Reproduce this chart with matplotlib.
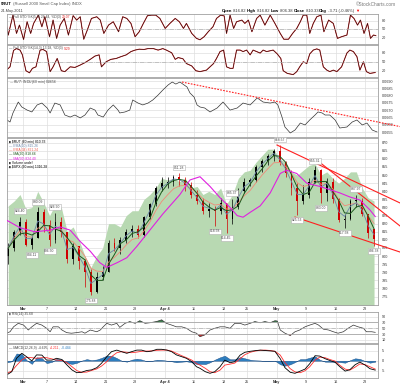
import matplotlib
matplotlib.use("Agg")
import matplotlib.pyplot as plt
from matplotlib.patches import Rectangle
import numpy as np
import pandas as pd

plt.rcParams["font.family"] = ["Liberation Sans", "DejaVu Sans"]

# ---------------- data ----------------
# trading days Feb 23 .. May 24 2011 (Good Friday closed); day i spans [i, i+1]
trade_days = pd.bdate_range("2011-02-23", "2011-05-24")
trade_days = trade_days[trade_days != pd.Timestamp("2011-04-22")]

tick_dates = ["2011-03-01", "2011-03-07", "2011-03-14", "2011-03-21", "2011-03-28",
              "2011-04-04", "2011-04-11", "2011-04-18", "2011-04-25",
              "2011-05-02", "2011-05-09", "2011-05-16", "2011-05-23"]
tick_labels = ["Mar", "7", "14", "21", "28", "Apr 4", "11", "18", "25", "May", "9", "16", "23"]

# daily OHLC of $RUT, Feb 24 .. May 24
rut_open = [800, 805, 815, 821, 807, 811, 827, 819, 810, 821, 815, 798, 806, 797, 790, 778, 787, 790,
            808, 805, 810, 815, 817, 813, 824, 832, 842, 845, 846, 849, 847, 844, 838, 834, 828, 829,
            828, 833, 823, 830, 840, 846, 847, 855, 859, 862, 865, 858, 851, 842, 834, 838, 846, 853,
            839, 846, 835, 822, 823, 834, 834, 826, 816.82]
rut_high = [808, 816, 824.40, 823, 813, 830.09, 829, 822, 826.90, 824, 815, 808, 806, 798, 792, 790,
            794, 810, 811, 812, 817, 819, 819, 825, 833, 843, 849, 849, 850, 851.28, 849, 846, 841,
            836, 833, 831, 836, 833, 835.37, 842, 848, 848, 856, 860, 863, 866, 868.57, 859, 853,
            845, 844, 848, 855.31, 854, 848, 848, 836, 826, 835, 837.97, 836, 826, 816.82]
rut_low = [795, 803, 813, 806, 804.11, 811, 815, 806.50, 808, 812, 796, 795, 792, 781, 775.88, 777,
           785, 790, 803, 801, 808, 812, 811, 812, 823, 831, 840, 842, 843, 843, 840, 836, 832, 826,
           824, 818.58, 826, 814.45, 820, 829, 839, 843, 846, 852, 856, 859, 856, 849, 838, 825.53,
           832, 836, 845, 833.00, 834, 833, 821, 817.58, 822, 830, 825, 811, 806.38]
rut_close = [805, 815, 821, 807, 811, 827, 819, 810, 821, 815, 798, 806, 797, 790, 778, 787, 790, 808,
             805, 810, 815, 817, 813, 824, 832, 842, 845, 846, 849, 847, 844, 838, 834, 828, 829, 828,
             833, 823, 830, 840, 846, 847, 855, 859, 862, 865, 858, 851, 842, 834, 838, 846, 853, 839,
             846, 835, 822, 823, 834, 834, 826, 814, 810.33]

# green $SPX overlay area (on the price scale), one value per day
spx_area = [831, 834, 838, 829, 830, 840, 833, 825, 832, 830, 815, 818, 810, 800, 793, 800, 805, 820,
            820, 818, 825, 828, 828, 835, 838, 842, 848, 847, 848, 846, 848, 842, 843, 838, 840, 838,
            842, 832, 838, 848, 852, 853, 858, 862, 866, 866, 860, 858, 852, 850, 853, 856, 857, 850,
            852, 848, 845, 848, 852, 852, 842, 836, 834]

ma50_day = [1.3, 3.5, 6.0, 8.6, 10.3, 12.0, 13.7, 15.4, 17.0, 18.2, 20.0, 21.6, 23.3, 25.5, 27.7,
            30.6, 32.3, 34.0, 35.7, 37.4, 39.1, 40.3, 41.3, 42.5, 44.2, 45.9, 47.6, 48.7, 50.4, 52.1,
            54.3, 56.0, 57.7, 59.4, 61.1, 62.8, 63.7]
ma50_val = [822, 817.5, 815, 816, 818, 816, 809, 803, 796, 793, 796, 799, 806, 816, 826, 838, 847,
            849, 843, 836, 830, 825, 824, 827, 831, 839, 851, 853, 851, 845, 843, 841, 839, 836.5,
            834.6, 828.5, 824.4]

# labelled swing highs / lows (trading day number)
ann_day = [3, 5, 6, 8, 9, 15, 30, 36, 38, 39, 47, 50, 53, 54, 58, 60, 63]
ann_side = ["high", "low", "high", "low", "high", "low", "high", "low", "low", "high",
            "high", "low", "high", "low", "low", "high", "low"]

# hand drawn trend lines (day, price)
trend_lines = [([47.05, 67.9], [868.57, 832.8]),
               ([53.8, 67.9], [859.3, 818.6]),
               ([50.1, 67.9], [824.1, 802.5])]
ratio_trend = ([30.95, 67.9], [0.06893, 0.06588])

sto5_day = [1.2, 1.5, 2.3, 2.9, 3.4, 4.1, 4.7, 5.3, 5.8, 6.6, 7.2, 7.7, 8.5, 9.1, 9.7, 10.3, 11.0, 11.7,
            12.5, 13.1, 13.7, 14.3, 14.9, 15.6, 16.5, 17.1, 17.7, 18.5, 19.3, 20.2, 20.9, 21.6, 22.3,
            23.0, 23.7, 24.4, 25.1, 25.8, 26.5, 27.2, 28.1, 28.9, 29.8, 30.5, 31.2, 31.7, 32.6, 33.4,
            34.0, 34.7, 35.4, 36.2, 36.8, 37.5, 38.1, 38.5, 39.1, 39.7, 40.2, 41.1, 41.6, 42.2, 42.8,
            43.6, 44.2, 45.0, 45.9, 46.7, 47.6, 48.2, 49.0, 49.7, 50.4, 51.0, 51.5, 52.1, 52.6, 53.2,
            53.8, 54.5, 55.0, 55.8, 56.6, 57.3, 58.0, 58.9, 59.5, 60.1, 60.7, 61.2, 61.8, 62.4, 62.9,
            63.4, 63.8]
sto5_k = [64, 28, 100, 34, 64, 12, 76, 34, 70, 100, 58, 94, 22, 82, 16, 64, 88, 28, 98, 82, 94, 13,
          46, 88, 94, 82, 34, 64, 76, 40, 94, 88, 70, 22, 40, 70, 98, 100, 100, 88, 52, 70, 88, 76,
          52, 70, 34, 16, 11, 22, 40, 58, 88, 100, 97, 34, 100, 52, 76, 82, 70, 82, 40, 88, 100, 64,
          100, 70, 34, 13, 13, 34, 52, 76, 100, 100, 34, 70, 94, 100, 40, 82, 70, 16, 22, 28, 100,
          88, 64, 82, 34, 70, 16, 28, 26]

sto14_day = [1.2, 1.8, 2.4, 2.9, 3.5, 3.9, 4.5, 5.1, 5.6, 6.2, 6.9, 7.4, 8.0, 8.6, 9.1, 9.8, 10.5,
             11.1, 12.0, 12.8, 13.7, 14.5, 15.4, 16.2, 16.9, 17.3, 18.1, 18.9, 19.8, 20.6, 21.5,
             22.3, 23.0, 23.7, 24.5, 25.2, 26.1, 26.9, 27.7, 28.3, 29.2, 29.8, 30.3, 31.1, 31.7,
             32.6, 33.3, 34.0, 35.1, 35.7, 36.3, 36.8, 37.4, 38.0, 38.5, 39.1, 39.6, 40.2, 40.8,
             41.3, 41.9, 42.5, 43.0, 43.6, 44.2, 44.7, 45.3, 46.4, 47.1, 47.7, 48.1, 48.8, 49.8,
             50.4, 50.9, 51.5, 52.1, 52.6, 53.2, 53.8, 54.3, 54.9, 55.5, 56.0, 56.6, 57.2, 58.0,
             58.9, 59.4, 60.0, 60.6, 61.1, 61.7, 62.2, 62.8, 63.7]
sto14_k = [22, 33, 88, 94, 89, 73, 20, 13, 28, 33, 89, 91, 84, 17, 33, 61, 20, 17, 33, 31, 39, 47,
           58, 69, 73, 33, 50, 58, 61, 67, 73, 84, 89, 92, 91, 94, 94, 89, 94, 89, 80, 58, 64, 60,
           44, 36, 20, 17, 22, 33, 44, 61, 84, 89, 33, 28, 28, 89, 89, 84, 89, 73, 89, 84, 79, 89,
           84, 89, 76, 61, 20, 11, 7, 17, 33, 50, 44, 76, 89, 93, 89, 33, 22, 17, 22, 17, 33, 79,
           89, 84, 67, 22, 50, 17, 11, 14]

ratio_day = [1.3, 1.8, 2.3, 3.2, 3.8, 4.7, 5.5, 6.4, 7.2, 8.1, 8.6, 9.4, 10.3, 11.1, 12.0, 12.8,
             13.7, 14.5, 15.4, 16.2, 16.7, 17.6, 18.4, 19.3, 20.1, 20.4, 21.3, 22.1, 22.6, 23.5,
             24.3, 25.2, 26.0, 26.9, 27.7, 28.6, 29.3, 29.9, 30.6, 31.3, 31.8, 32.3, 33.0, 33.5,
             34.0, 34.8, 35.7, 36.9, 37.9, 39.1, 40.3, 41.3, 42.5, 43.7, 44.7, 45.9, 46.7, 47.2,
             47.9, 48.4, 49.3, 50.1, 51.0, 51.8, 52.6, 53.5, 54.0, 54.7, 55.2, 56.0, 56.9, 57.7,
             58.9, 59.8, 60.6, 61.5, 62.3, 63.2, 64.0]
ratio_val = [0.06633, 0.06619, 0.06681, 0.06756, 0.06722, 0.06701, 0.06688, 0.06736, 0.06749,
             0.06715, 0.06681, 0.06749, 0.06736, 0.06667, 0.06653, 0.06667, 0.06647, 0.06667,
             0.06715, 0.06701, 0.06667, 0.06653, 0.06701, 0.06736, 0.06701, 0.06681, 0.06688,
             0.06701, 0.06770, 0.06749, 0.06736, 0.06749, 0.06770, 0.06804, 0.06838, 0.06873,
             0.06893, 0.06879, 0.06893, 0.06873, 0.06859, 0.06818, 0.06790, 0.06736, 0.06722,
             0.06715, 0.06688, 0.06715, 0.06756, 0.06701, 0.06715, 0.06749, 0.06736, 0.06784,
             0.06756, 0.06749, 0.06756, 0.06736, 0.06653, 0.06585, 0.06544, 0.06564, 0.06612,
             0.06599, 0.06633, 0.06667, 0.06688, 0.06681, 0.06667, 0.06667, 0.06633, 0.06578,
             0.06585, 0.06619, 0.06633, 0.06599, 0.06612, 0.06564, 0.06551]

rsi_day = [1.2, 1.8, 2.4, 3.2, 4.1, 4.9, 5.5, 6.3, 7.2, 8.0, 8.6, 9.1, 10.0, 10.6, 11.4, 12.2, 13.1,
           14.0, 14.5, 15.4, 16.5, 17.1, 17.6, 18.2, 19.0, 19.9, 20.4, 21.3, 22.1, 23.0, 23.8, 24.7,
           25.5, 26.6, 27.5, 28.3, 29.2, 30.0, 30.9, 31.7, 32.6, 33.4, 34.0, 34.8, 35.7, 36.5, 37.4,
           38.2, 39.1, 39.9, 40.8, 41.6, 42.5, 43.3, 44.2, 45.0, 45.9, 46.7, 47.1, 47.6, 48.4, 49.3,
           50.1, 50.9, 51.8, 52.6, 53.5, 54.1, 54.9, 55.8, 56.6, 57.4, 58.3, 59.1, 60.0, 60.8, 61.7,
           62.2, 63.1, 63.7]
rsi_val = [33, 38, 55, 67, 61, 44, 55, 67, 61, 50, 38, 55, 55, 44, 35, 33, 35, 38, 33, 44, 38, 44,
           55, 67, 61, 67, 53, 67, 73, 67, 76, 67, 69, 73, 79, 67, 61, 55, 55, 50, 38, 33, 21, 27,
           44, 50, 55, 55, 50, 67, 67, 61, 67, 73, 69, 73, 69, 76, 75, 44, 33, 25, 38, 44, 55, 61,
           67, 61, 47, 44, 38, 33, 38, 50, 61, 55, 50, 38, 38, 36]

macd_day = [1.2, 2.1, 2.9, 3.8, 4.6, 5.5, 6.3, 7.2, 8.0, 8.9, 9.7, 10.6, 11.4, 12.3, 13.1, 13.9, 14.8,
            15.6, 16.5, 17.3, 18.2, 19.0, 19.9, 20.7, 21.6, 22.4, 23.3, 24.1, 25.0, 25.8, 26.7, 27.5,
            28.4, 29.2, 30.0, 30.9, 31.7, 32.6, 33.4, 34.0, 34.9, 35.7, 36.5, 37.4, 38.2, 39.1, 39.9,
            40.8, 41.6, 42.5, 43.3, 44.2, 45.0, 45.9, 46.7, 47.6, 48.4, 49.3, 50.1, 51.0, 51.8, 52.6,
            53.5, 54.3, 55.2, 56.0, 56.9, 57.7, 58.6, 59.4, 60.3, 61.1, 62.0, 62.8, 63.7]
macd_line = [-7.2, -5.5, 1.2, 3.7, 2.0, -0.1, 2.9, 2.8, 0.3, 0.3, 1.2, 0.6, -2.0, -4.6, -6.0, -5.8,
             -4.9, -4.6, -3.5, -1.3, 2.0, 4.5, 5.3, 4.5, 3.7, 4.5, 5.3, 5.3, 4.5, 4.8, 5.7, 5.7, 5.3,
             4.5, 2.9, 2.0, 1.2, -0.5, -3.0, -3.8, -5.5, -6.3, -5.5, -3.0, 0.3, -1.0, -0.5, 2.8, 4.2,
             4.7, 5.0, 5.3, 5.1, 4.9, 4.7, 1.0, -3.5, -5.8, -6.3, -5.2, -4.2, -1.5, 2.5, 2.3, 1.0,
             0.1, -0.8, -3.0, -5.2, -4.5, -2.0, -0.7, -2.2, -4.0, -4.7]
macd_signal = [-6.3, -5.2, -2.4, 0.4, 1.7, 1.5, 1.2, 1.5, 1.5, 0.9, 0.3, 0.1, -0.9, -3.0, -4.9, -5.8,
               -5.7, -4.9, -4.1, -2.7, -0.5, 2.0, 4.0, 4.5, 4.2, 4.0, 4.3, 4.7, 4.8, 4.9, 5.2, 5.3,
               5.3, 4.8, 3.7, 2.5, 1.5, 0.3, -1.4, -2.2, -3.8, -5.5, -6.0, -4.7, -2.2, -1.7, -1.2,
               1.0, 3.0, 4.2, 4.8, 5.2, 5.3, 5.1, 4.7, 2.8, -1.0, -4.0, -5.6, -6.0, -5.0, -3.0, 0.3,
               1.8, 1.5, 0.6, -0.2, -2.3, -4.2, -4.7, -3.2, -1.6, -2.0, -3.0, -4.2]

# ---------------- layout ----------------
W, H = 400, 386
X0, X1 = 7, 378
XMIN, XMAX = 1.29, 64.17
GRID = "#dedede"
SMALL = 2.7

fig = plt.figure(figsize=(W / 100, H / 100), dpi=100)
fig.patch.set_facecolor("white")
tick_pos = [trade_days.get_loc(pd.Timestamp(d)) for d in tick_dates]


def panel(y0, y1, yticks, fmt, ylim):
    ax = fig.add_axes([X0 / W, 1 - y1 / H, (X1 - X0) / W, (y1 - y0) / H])
    ax.set_xlim(XMIN, XMAX)
    ax.set_ylim(*ylim)
    for s in ax.spines.values():
        s.set_color("#a0a0a0")
        s.set_linewidth(0.6)
    ax.yaxis.tick_right()
    ax.set_yticks(yticks)
    ax.set_yticklabels([fmt(v) for v in yticks], fontsize=SMALL, color="#333333")
    ax.tick_params(axis="y", length=0, pad=2.5)
    ax.set_xticks(tick_pos)
    ax.tick_params(axis="x", length=0, labelbottom=False)
    ax.grid(True, color=GRID, lw=0.5)
    ax.set_axisbelow(True)
    return ax


def xlabels(ax):
    ax.tick_params(axis="x", labelbottom=True, pad=1.5)
    ax.set_xticklabels(tick_labels, fontsize=SMALL, color="#333333")
    for t in ax.get_xticklabels():
        if t.get_text()[0].isalpha():
            t.set_fontweight("bold")


def seg_text(x, y, parts, size=SMALL):
    r = fig.canvas.get_renderer()
    for s, c, w in parts:
        t = fig.text(x / W, 1 - y / H, s, fontsize=size, color=c, fontweight=w, va="center")
        x += t.get_window_extent(renderer=r).width


days_mid = np.arange(1, len(rut_close) + 1) + 0.5
close = pd.Series(rut_close)

# header
seg_text(1, 4, [("$RUT", "black", "bold"), (" (Russell 2000 Small Cap Index) INDX", "#555555", "normal")], 3.0)
fig.text(1 / W, 1 - 11 / H, "24-May-2011", fontsize=2.8, color="#444444", va="center")
fig.text(396 / W, 1 - 4 / H, "\u00a9StockCharts.com", fontsize=3.4, color="#777777", va="center", ha="right")
seg_text(222, 11, [("Open", "black", "bold"), (" 816.82 ", "#333333", "normal"),
                   ("High", "black", "bold"), (" 816.82 ", "#333333", "normal"),
                   ("Low", "black", "bold"), (" 806.38 ", "#333333", "normal"),
                   ("Close", "black", "bold"), (" 810.33 ", "#333333", "normal"),
                   ("Chg", "black", "bold"), (" -3.71 (-0.46%) ", "#333333", "normal"),
                   ("\u25bc", "red", "normal")], 3.0)

# Full STO (5,3)
ax1 = panel(14, 44, [20, 50, 80], lambda v: f"{v}", (-4.3, 104))
ax1.plot(sto5_day, sto5_k, color="#e83030", lw=0.75)
ax1.plot(sto5_day, sto5_k, color="#111111", lw=0.4)
ax1.axhline(50, color="#b0b0b0", lw=0.5, ls="-.")
seg_text(9, 17, [("\u2014 Full STO %K(5,3) 26.44, %D(3) ", "#444444", "normal"), ("29.07", "#e02020", "normal")], 2.4)

# Full STO (14,3)
ax2 = panel(45, 77, [20, 50, 80], lambda v: f"{v}", (-1, 106))
ax2.plot(sto14_day, sto14_k, color="#e83030", lw=0.75)
ax2.plot(sto14_day, sto14_k, color="#111111", lw=0.4)
ax2.axhline(50, color="#b0b0b0", lw=0.5, ls="-.")
seg_text(9, 48.5, [("\u2014 Full STO %K(14,3) 13.18, %D(3) ", "#444444", "normal"), ("9.29", "#e02020", "normal")], 2.4)

# $RUT:$INDU ratio
ratio_ticks = [0.0655, 0.0660, 0.0665, 0.0670, 0.0675, 0.0680, 0.0685, 0.0690]
ax3 = panel(78, 137, ratio_ticks, lambda v: f"{v:.4f}", (0.065164, 0.069206))
ax3.plot(ratio_day, ratio_val, color="#333333", lw=0.5)
ax3.plot(*ratio_trend, color="#ff2020", lw=0.8, ls=(0, (1.5, 1.2)), clip_on=False)
seg_text(9, 82, [("\u2014 $RUT:$INDU (60 min) 0.0656", "#444444", "normal")], 2.4)

# main price panel
price_ticks = list(range(775, 871, 5))
axm = panel(138, 305, price_ticks, lambda v: f"{v}", (769.8, 872.9))
axm.fill_between(days_mid, 760, spx_area, color="#b8d9b2", lw=0, zorder=1)
for d, o, h, l, c in zip(days_mid, rut_open, rut_high, rut_low, rut_close):
    col = "black" if c >= o else "#d00000"
    axm.vlines(d, l, h, color=col, lw=0.5, zorder=2)
    axm.add_patch(Rectangle((d - 0.15, min(o, c)), 0.3, max(abs(c - o), 0.4), color=col, lw=0, zorder=2))
ema10 = close.ewm(span=2).mean()
ema34 = close.ewm(span=5).mean()
ma20 = close.rolling(3, min_periods=1).mean()
axm.plot(days_mid, ema34, color="#f08a78", lw=0.6, zorder=3)
axm.plot(days_mid, ema10, color="#6b86a8", lw=0.6, zorder=3)
axm.plot(days_mid, ma20, color="#1d5a1d", lw=0.7, zorder=3)
axm.plot(ma50_day, ma50_val, color="#e020e0", lw=0.8, zorder=3)
for xs, ys in trend_lines:
    axm.plot(xs, ys, color="#ff2020", lw=0.8, clip_on=False, zorder=4)
for d, side in zip(ann_day, ann_side):
    v = rut_high[d - 1] if side == "high" else rut_low[d - 1]
    up = side == "high"
    axm.annotate(f"{v:.2f}", (d + 0.5, v), xytext=(0, 2.5 if up else -2.5), textcoords="offset points",
                 ha="center", va="bottom" if up else "top", fontsize=2.4, color="#444444", zorder=5,
                 bbox=dict(boxstyle="square,pad=0.25", fc="white", ec="#b0b0b0", lw=0.4))
legend = [("\u25ae $RUT (60 min) 810.33", "black"), ("\u2014 EMA(10) 815.26", "#6b86a8"),
          ("\u2014 EMA(34) 821.24", "#f06050"), ("\u2014 MA(20) 818.66", "#1d5a1d"),
          ("\u2014 MA(50) 824.40", "#e020e0"), ("\u25ae Volume undef", "black"),
          ("\u25ae $SPX (60 min) 1316.28", "black")]
for k, (txt, col) in enumerate(legend):
    fig.text(9 / W, 1 - (141.5 + 4.3 * k) / H, txt, fontsize=2.4, color=col, va="center")
xlabels(axm)

# RSI
axr = panel(312, 343, [10, 30, 50, 70, 90], lambda v: f"{v}", (-0.7, 106))
axr.plot(rsi_day, rsi_val, color="#333333", lw=0.5)
rv = np.array(rsi_val)
axr.fill_between(rsi_day, 70, rv, where=rv > 70, interpolate=True, color="#3f7f4f", lw=0)
axr.fill_between(rsi_day, 30, rv, where=rv < 30, interpolate=True, color="#c83030", lw=0)
axr.axhline(50, color="#b0b0b0", lw=0.5, ls="-.")
for lv in (30, 70):
    axr.axhline(lv, color="#a8a8a8", lw=0.6)
seg_text(9, 314.5, [("\u25ae RSI(14) 35.68", "#444444", "normal")], 2.4)

# MACD
axd = panel(344, 378, [-5, 0, 5], lambda v: f"{v}", (-8.65, 8.35))
hist = np.array(macd_line) - np.array(macd_signal)
axd.fill_between(macd_day, 0, hist, color="#2f7fc0", ec="#1a4a80", lw=0.3)
axd.plot(macd_day, macd_signal, color="#ff3030", lw=0.6)
axd.plot(macd_day, macd_line, color="black", lw=0.6)
seg_text(9, 348, [("\u2014 MACD(12,26,9) -4.695, ", "#444444", "normal"), ("-4.211", "#ff3030", "normal"),
                  (", -0.484", "#2f7fc0", "normal")], 2.4)
xlabels(axd)

fig.savefig("out.png", dpi=100, facecolor="white")
